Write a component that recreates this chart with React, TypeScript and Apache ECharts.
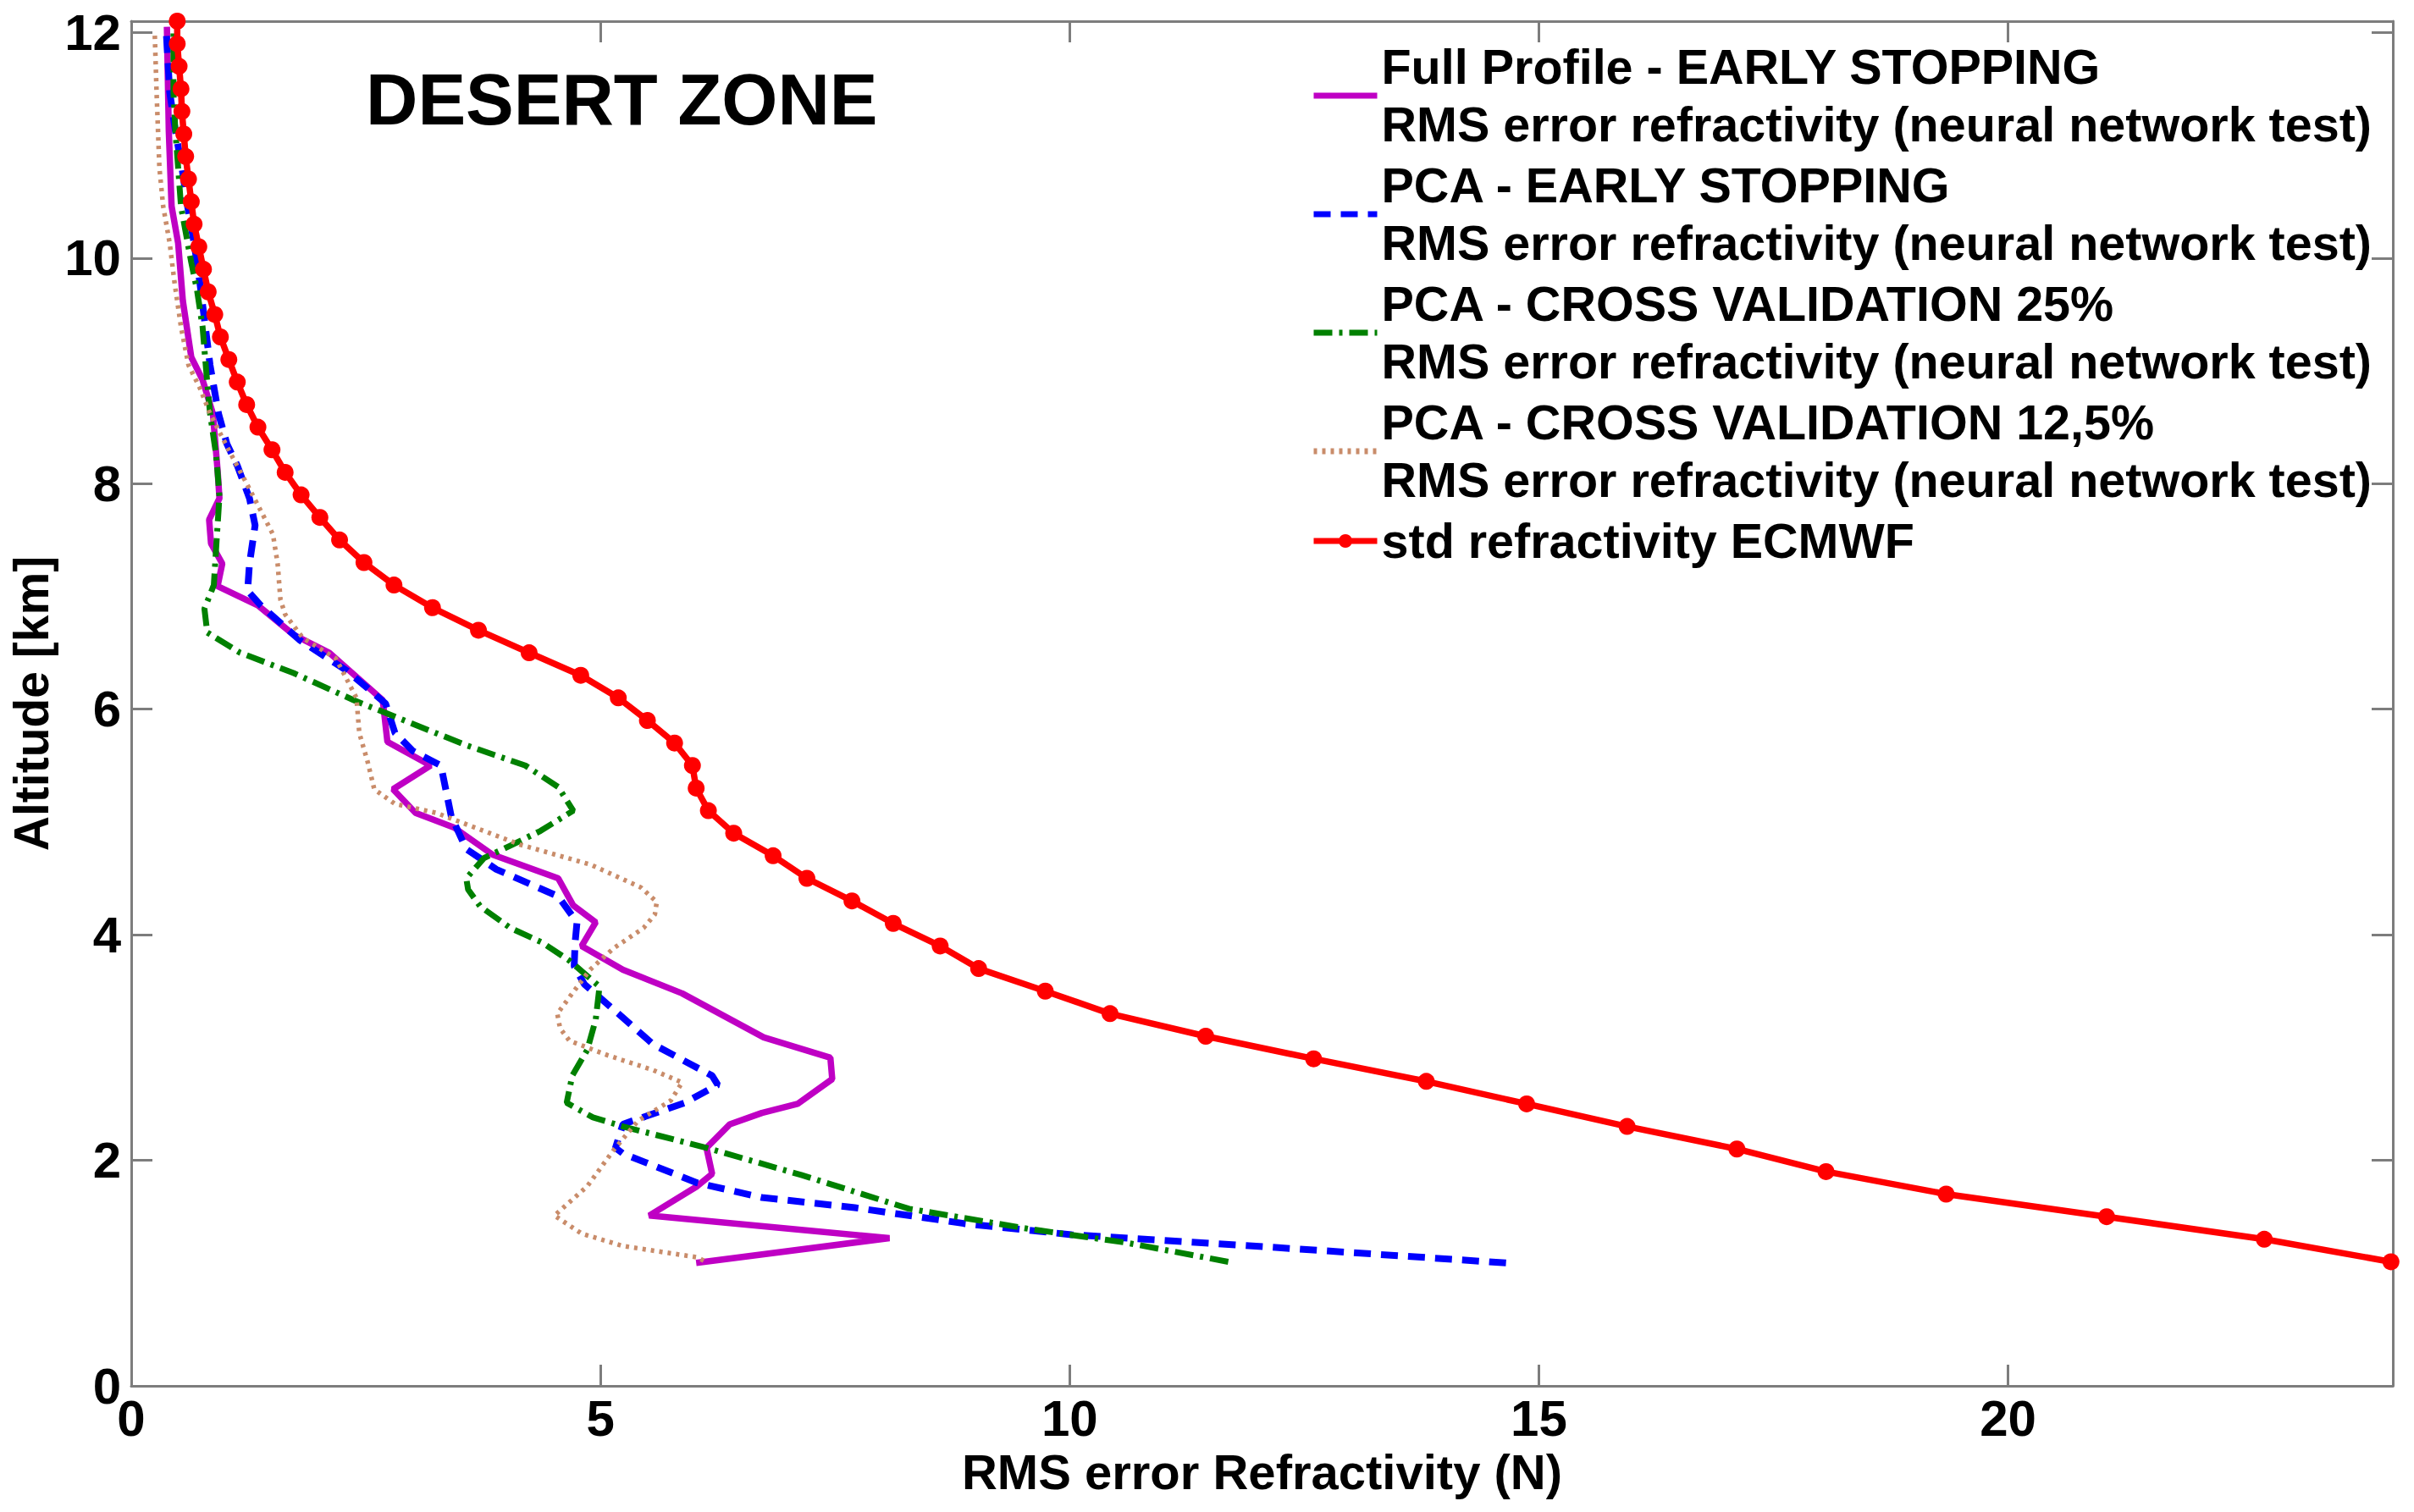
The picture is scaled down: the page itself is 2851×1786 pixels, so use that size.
import React, { useEffect, useRef } from 'react';
import * as echarts from 'echarts';

// ---------- data (x = RMS error refractivity N, y = altitude km) ----------
const seriesNames = [
  'Full Profile - EARLY STOPPING\nRMS error refractivity (neural network test)',
  'PCA - EARLY STOPPING\nRMS error refractivity (neural network test)',
  'PCA - CROSS VALIDATION 25%\nRMS error refractivity (neural network test)',
  'PCA - CROSS VALIDATION 12,5%\nRMS error refractivity (neural network test)',
  'std refractivity ECMWF',
];

const fullProfileEarlyStopping: number[][] = [
  [6.02, 1.09], [8.08, 1.31], [5.52, 1.51], [6.03, 1.77], [6.19, 1.88], [6.13, 2.11],
  [6.38, 2.32], [6.72, 2.42], [7.10, 2.50], [7.47, 2.72], [7.45, 2.91], [6.74, 3.09],
  [5.87, 3.48], [5.24, 3.69], [4.80, 3.90], [4.95, 4.11], [4.71, 4.26], [4.55, 4.50],
  [3.85, 4.71], [3.44, 4.95], [3.03, 5.08], [2.79, 5.29], [3.19, 5.50], [2.73, 5.71],
  [2.68, 6.08], [2.11, 6.50], [1.73, 6.66], [1.35, 6.92], [0.92, 7.09], [0.97, 7.29],
  [0.85, 7.47], [0.83, 7.68], [0.94, 7.87], [0.92, 8.12], [0.87, 8.62], [0.76, 8.92],
  [0.64, 9.12], [0.55, 9.62], [0.50, 10.13], [0.43, 10.46], [0.40, 11.13], [0.38, 12.05],
];

const pcaEarlyStopping: number[][] = [
  [14.65, 1.09], [12.14, 1.23], [10.02, 1.34], [8.87, 1.44], [7.71, 1.58], [6.72, 1.67],
  [6.03, 1.80], [5.24, 2.06], [5.16, 2.11], [5.24, 2.32], [5.90, 2.51], [6.25, 2.67],
  [6.19, 2.75], [5.56, 3.03], [5.08, 3.38], [4.83, 3.56], [4.72, 3.72], [4.73, 3.93],
  [4.75, 4.11], [4.55, 4.34], [3.89, 4.58], [3.57, 4.76], [3.41, 5.05], [3.30, 5.50],
  [3.00, 5.63], [2.81, 5.79], [2.71, 6.05], [2.30, 6.34], [1.80, 6.61], [1.38, 6.92],
  [1.24, 7.05], [1.26, 7.29], [1.32, 7.63], [1.26, 7.87], [1.13, 8.16], [1.02, 8.35],
  [0.93, 8.62], [0.84, 9.05], [0.79, 9.39], [0.73, 9.79], [0.67, 10.13], [0.60, 10.46],
  [0.54, 10.80], [0.47, 11.13], [0.41, 11.47], [0.37, 12.05],
];

const pcaCrossValidation25: number[][] = [
  [11.69, 1.10], [10.60, 1.27], [9.58, 1.39], [8.29, 1.57], [7.14, 1.87], [6.13, 2.11],
  [5.24, 2.30], [4.92, 2.38], [4.64, 2.51], [4.70, 2.75], [4.86, 2.98], [4.95, 3.25],
  [4.99, 3.54], [4.67, 3.77], [4.38, 3.93], [4.04, 4.06], [3.72, 4.25], [3.59, 4.40],
  [3.57, 4.50], [3.76, 4.68], [4.04, 4.79], [4.36, 4.92], [4.71, 5.10], [4.55, 5.31],
  [4.20, 5.50], [3.57, 5.68], [2.94, 5.89], [2.37, 6.08], [1.73, 6.32], [1.16, 6.50],
  [0.81, 6.68], [0.78, 6.89], [0.88, 7.10], [0.91, 7.50], [0.94, 7.89], [0.92, 8.10],
  [0.90, 8.28], [0.84, 8.62], [0.80, 8.99], [0.76, 9.39], [0.70, 9.72], [0.64, 9.96],
  [0.58, 10.23], [0.53, 10.46], [0.50, 10.80], [0.47, 11.13], [0.45, 11.47], [0.45, 12.00],
];

const pcaCrossValidation125: number[][] = [
  [6.10, 1.11], [6.03, 1.14], [5.24, 1.24], [4.80, 1.35], [4.51, 1.51], [4.86, 1.77],
  [5.14, 2.09], [5.40, 2.35], [5.75, 2.53], [5.87, 2.69], [5.56, 2.80], [5.08, 2.93],
  [4.67, 3.06], [4.57, 3.17], [4.54, 3.30], [4.70, 3.48], [4.89, 3.69], [5.14, 3.88],
  [5.46, 4.06], [5.58, 4.18], [5.60, 4.29], [5.43, 4.42], [4.90, 4.62], [4.14, 4.80],
  [3.25, 5.08], [2.81, 5.16], [2.59, 5.29], [2.52, 5.53], [2.43, 5.79], [2.40, 6.10],
  [2.18, 6.45], [1.83, 6.63], [1.64, 6.84], [1.59, 6.97], [1.56, 7.29], [1.51, 7.55],
  [1.38, 7.76], [1.23, 8.00], [1.05, 8.28], [0.84, 8.62], [0.73, 8.85], [0.61, 9.05],
  [0.53, 9.39], [0.46, 9.79], [0.41, 10.13], [0.34, 10.46], [0.30, 10.80], [0.27, 11.47],
  [0.25, 12.00],
];

const stdRefractivityEcmwf: number[][] = [
  [24.08, 1.1], [22.73, 1.3], [21.05, 1.5], [19.34, 1.7], [18.06, 1.9], [17.11, 2.1],
  [15.94, 2.3], [14.87, 2.5], [13.80, 2.7], [12.60, 2.9], [11.45, 3.1], [10.43, 3.3],
  [9.74, 3.5], [9.03, 3.7], [8.62, 3.9], [8.12, 4.1], [7.68, 4.3], [7.20, 4.5],
  [6.84, 4.7], [6.42, 4.9], [6.15, 5.1], [6.02, 5.3], [5.98, 5.5], [5.79, 5.7],
  [5.50, 5.9], [5.19, 6.1], [4.79, 6.3], [4.24, 6.5], [3.70, 6.7], [3.21, 6.9],
  [2.80, 7.1], [2.48, 7.3], [2.22, 7.5], [2.01, 7.7], [1.81, 7.9], [1.64, 8.1],
  [1.50, 8.3], [1.35, 8.5], [1.23, 8.7], [1.13, 8.9], [1.04, 9.1], [0.95, 9.3],
  [0.89, 9.5], [0.82, 9.7], [0.77, 9.9], [0.72, 10.1], [0.67, 10.3], [0.64, 10.5],
  [0.61, 10.7], [0.58, 10.9], [0.56, 11.1], [0.54, 11.3], [0.53, 11.5], [0.51, 11.7],
  [0.49, 11.9], [0.49, 12.1],
];

const xRange = [0, 24.1];
const yRange = [0, 12.1];
const xStep = 5;
const yStep = 2;
const titleText = 'DESERT ZONE';
const xAxisTitle = 'RMS error Refractivity (N)';
const yAxisTitle = 'Altitude [km]';

// ---------- styles ----------
const FONT = '"Liberation Sans", Arial, Helvetica, sans-serif';
const AXIS_GREY = '#7d7d7d';

const stepLabel = (step: number) => (v: number) => {
  const r = Math.round(v);
  return Math.abs(v - r) < 1e-6 && r % step === 0 ? String(r) : '';
};

const tickStyle = { inside: true, length: 25, lineStyle: { color: AXIS_GREY, width: 3 } };
const lineAxis = { show: true, onZero: false, lineStyle: { color: AXIS_GREY, width: 3 } };
const labelStyle = { color: '#000', fontSize: 60, fontWeight: 'bold' as const, fontFamily: FONT };

export default function App() {
  const ref = useRef<HTMLDivElement>(null);

  useEffect(() => {
    if (!ref.current) return;
    const chart = echarts.init(ref.current, null, { renderer: 'svg' });
    const hidden = { opacity: 0 };
    const option: any = {
      animation: false,
      backgroundColor: '#ffffff',
      grid: { left: 155, right: 25, top: 25, bottom: 149, containLabel: false },
      graphic: [
        {
          type: 'text',
          x: 432,
          y: 117,
          z: 100,
          style: {
            text: titleText,
            fontSize: 85,
            fontWeight: 'bold',
            fontFamily: FONT,
            fill: '#000',
            verticalAlign: 'middle',
          },
        },
      ],
      legend: {
        orient: 'vertical',
        left: 1548,
        top: 45,
        padding: 0,
        itemWidth: 75,
        itemHeight: 20,
        itemGap: 4,
        lineStyle: { width: 7 },
        data: [
          { name: seriesNames[0], itemStyle: hidden },
          { name: seriesNames[1], itemStyle: hidden },
          { name: seriesNames[2], itemStyle: hidden },
          { name: seriesNames[3], itemStyle: hidden },
          { name: seriesNames[4] },
        ],
        textStyle: { fontSize: 57.5, fontWeight: 'bold', fontFamily: FONT, color: '#000', lineHeight: 68 },
      },
      xAxis: [
        {
          type: 'value',
          position: 'bottom',
          min: xRange[0],
          max: xRange[1],
          interval: xStep,
          axisLine: lineAxis,
          axisTick: tickStyle,
          splitLine: { show: false },
          axisLabel: { ...labelStyle, margin: 8, formatter: stepLabel(xStep) },
          name: xAxisTitle,
          nameLocation: 'middle',
          nameGap: 65,
          nameTextStyle: { color: '#000', fontSize: 58, fontWeight: 'bold', fontFamily: FONT },
        },
        {
          type: 'value',
          position: 'top',
          min: xRange[0],
          max: xRange[1],
          interval: xStep,
          axisLine: lineAxis,
          axisTick: tickStyle,
          splitLine: { show: false },
          axisLabel: { show: false },
        },
      ],
      yAxis: [
        {
          type: 'value',
          position: 'left',
          min: yRange[0],
          max: yRange[1],
          interval: yStep,
          axisLine: lineAxis,
          axisTick: tickStyle,
          splitLine: { show: false },
          axisLabel: { ...labelStyle, margin: 12, formatter: stepLabel(yStep) },
          name: yAxisTitle,
          nameLocation: 'middle',
          nameGap: 86,
          nameTextStyle: { color: '#000', fontSize: 57, fontWeight: 'bold', fontFamily: FONT },
        },
        {
          type: 'value',
          position: 'right',
          min: yRange[0],
          max: yRange[1],
          interval: yStep,
          axisLine: lineAxis,
          axisTick: tickStyle,
          splitLine: { show: false },
          axisLabel: { show: false },
        },
      ],
      series: [
        {
          name: seriesNames[0],
          type: 'line',
          data: fullProfileEarlyStopping,
          symbol: 'none',
          color: '#bf00c4',
          lineStyle: { color: '#bf00c4', width: 7.5, type: 'solid' },
        },
        {
          name: seriesNames[1],
          type: 'line',
          data: pcaEarlyStopping,
          symbol: 'none',
          color: '#0000ff',
          lineStyle: { color: '#0000ff', width: 8, type: [20, 12] },
        },
        {
          name: seriesNames[2],
          type: 'line',
          data: pcaCrossValidation25,
          symbol: 'none',
          color: '#008000',
          lineStyle: { color: '#008000', width: 7, type: [22, 8, 4, 8] },
        },
        {
          name: seriesNames[3],
          type: 'line',
          data: pcaCrossValidation125,
          symbol: 'none',
          color: '#c98c6a',
          lineStyle: { color: '#c98c6a', width: 5.5, type: [4, 6] },
        },
        {
          name: seriesNames[4],
          type: 'line',
          data: stdRefractivityEcmwf,
          symbol: 'circle',
          symbolSize: 20,
          color: '#ff0000',
          itemStyle: { color: '#ff0000' },
          lineStyle: { color: '#ff0000', width: 7.5, type: 'solid' },
        },
      ],
    };
    chart.setOption(option);
    return () => chart.dispose();
  }, []);

  return (
    <div
      ref={ref}
      style={{ position: 'absolute', left: 0, top: 0, width: 2851, height: 1786, background: '#fff' }}
    />
  );
}
